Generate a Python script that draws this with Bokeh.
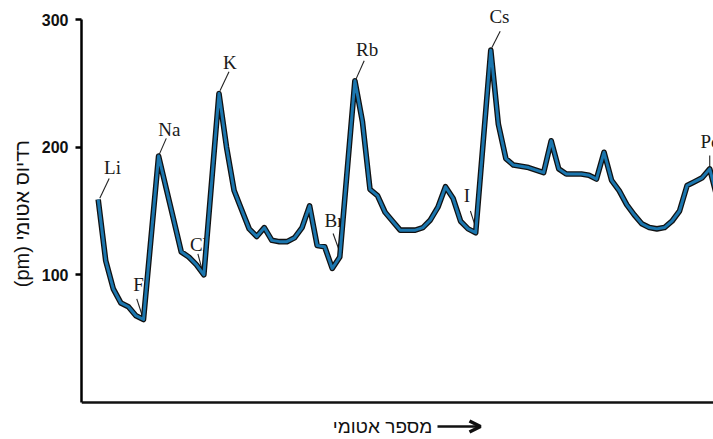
from bokeh.plotting import figure
from bokeh.models import ColumnDataSource, LabelSet, Label, FixedTicker, Arrow, OpenHead, Span
from bokeh.embed import file_html
from bokeh.resources import INLINE

# ---- data (noble gases are not plotted) ----
atomic_number = [3, 4, 5, 6, 7, 8, 9,
                 11, 12, 13, 14, 15, 16, 17,
                 19, 20, 21, 22, 23, 24, 25, 26, 27, 28, 29, 30, 31, 32, 33, 34, 35,
                 37, 38, 39, 40, 41, 42, 43, 44, 45, 46, 47, 48, 49, 50, 51, 52, 53,
                 55, 56, 57, 58, 59, 60, 61, 62, 63, 64, 65, 66, 67, 68, 69, 70, 71,
                 72, 73, 74, 75, 76, 77, 78, 79, 80, 81, 82, 83, 84, 85]
atomic_radius_pm = [159, 111, 89, 78, 75, 68, 65,
                    193, 168, 143, 118, 114, 108, 100,
                    242, 200, 166, 151, 136, 130, 137, 127, 126, 126, 129, 137, 154, 123, 122, 105, 114,
                    252, 220, 167, 162, 149, 142, 135, 135, 135, 137, 143, 153, 169, 160, 142, 136, 133,
                    276, 218, 191, 186, 185, 184, 182, 180, 205, 183, 179, 179, 179, 178, 175, 196, 174,
                    166, 155, 147, 140, 137, 136, 137, 142, 150, 170, 173, 176, 183, 160]

label_symbols = ["Li", "Na", "K", "Rb", "Cs", "F", "Cl", "Br", "I", "Po"]
label_numbers = [3, 11, 19, 37, 55, 9, 17, 35, 53, 84]

y_ticks = [100, 200, 300]
y_axis_title = "\u00a0\u00a0\u00a0(pm) רדיוס אטומי"
x_axis_title = "מספר אטומי"

# ---- layout / style ----
PX_X = 7.55            # px per atomic number
PX_Y = 383 / 300       # px per pm
X_START = 0.79
X_END = X_START + 632 / PX_X
Y_LO = -(439 - 402) / PX_Y     # frame extends below the 0 baseline to hold the title
Y_HI = 300 + (19 - 4) / PX_Y   # and a little above 300 for the Cs label

# text centre offsets and leader-line offsets (screen px, y downwards) per label
text_dx = [14.3, 10.7, 11.0, 12.3, 8.7, -5.0, -5.0, -5.7, -8.8, 0.7]
text_dy = [-32.3, -26.7, -30.7, -31.7, -33.7, -35.0, -30.8, -36.7, -37.2, -27.3]
lead_x0 = [11.0, 7.7, 10.0, 9.3, 9.4, -6.7, -6.0, -6.7, -5.3, 0.0]
lead_y0 = [-21.0, -17.7, -21.7, -20.0, -19.0, -20.7, -21.0, -23.4, -21.7, -13.3]
lead_x1 = [1.6, 0.7, 1.0, 1.0, 1.0, -1.3, -2.0, 0.0, -1.0, 0.0]
lead_y1 = [-1.3, -1.7, -2.7, -1.4, -2.4, -4.0, -6.0, -5.0, -8.4, -1.6]

radius_of = dict(zip(atomic_number, atomic_radius_pm))
lab_x = label_numbers
lab_y = [radius_of[z] for z in label_numbers]

def px_to_x(px):      # page x -> data x
    return X_START + (px - 81) / PX_X

def py_to_y(py):      # page y -> data y
    return (402 - py) / PX_Y

p = figure(width=713, height=439, output_backend="svg", toolbar_location=None,
           x_range=(X_START, X_END), y_range=(Y_LO, Y_HI),
           min_border_left=81, min_border_right=0, min_border_top=4, min_border_bottom=0)
p.outline_line_color = None
p.grid.visible = False
p.xaxis.visible = False
p.background_fill_color = "white"
p.border_fill_color = "white"

# x baseline at 0
p.add_layout(Span(location=0, dimension="width", line_color="#111111", line_width=2.5))

# leader lines
seg = ColumnDataSource(dict(
    x0=[x + dx / PX_X for x, dx in zip(lab_x, lead_x0)],
    y0=[y - dy / PX_Y for y, dy in zip(lab_y, lead_y0)],
    x1=[x + dx / PX_X for x, dx in zip(lab_x, lead_x1)],
    y1=[y - dy / PX_Y for y, dy in zip(lab_y, lead_y1)],
))
p.segment("x0", "y0", "x1", "y1", source=seg, line_color="#222222", line_width=1.1)

# element labels (drawn under the curve)
lsrc = ColumnDataSource(dict(x=lab_x, y=lab_y, t=label_symbols,
                             dx=text_dx, dy=[-d for d in text_dy]))
labels = LabelSet(x="x", y="y", text="t", x_offset="dx", y_offset="dy", source=lsrc,
                  text_font="Liberation Serif", text_font_size="19px",
                  text_color="#1a1a1a", text_align="center", text_baseline="middle",
                  level="underlay")
p.add_layout(labels)

# curve: black outline + blue core
p.line(atomic_number, atomic_radius_pm, line_color="#111111", line_width=5.6, line_join="round")
p.line(atomic_number, atomic_radius_pm, line_color="#1b76ae", line_width=3.0, line_join="round")

# y axis limited to 0..300
ya = p.yaxis[0]
ya.bounds = (0, 300)
ya.ticker = FixedTicker(ticks=y_ticks)
ya.minor_tick_line_color = None
ya.major_tick_in = 0
ya.major_tick_out = 6
ya.major_tick_line_width = 2.5
ya.axis_line_width = 2.5
ya.major_label_standoff = 7
ya.major_label_text_font = "Liberation Sans"
ya.major_label_text_font_style = "bold"
ya.major_label_text_font_size = "16px"
ya.major_label_text_color = "#111111"
ya.axis_label = y_axis_title
ya.axis_label_text_font = "Liberation Sans"
ya.axis_label_text_font_style = "normal"
ya.axis_label_text_font_size = "20px"
ya.axis_label_text_color = "#111111"
ya.axis_label_standoff = 6

# x-axis title with its arrow, below the baseline
p.add_layout(Label(x=px_to_x(382), y=py_to_y(426), text=x_axis_title,
                   text_font="Liberation Sans", text_font_size="19px", text_color="#111111",
                   text_align="center", text_baseline="middle"))
p.add_layout(Arrow(x_start=px_to_x(437), y_start=py_to_y(426),
                   x_end=px_to_x(480), y_end=py_to_y(426),
                   line_color="#111111", line_width=2.5,
                   end=OpenHead(size=11, line_width=3.5, line_color="#111111")))

open("out.html", "w").write(file_html(p, INLINE))
